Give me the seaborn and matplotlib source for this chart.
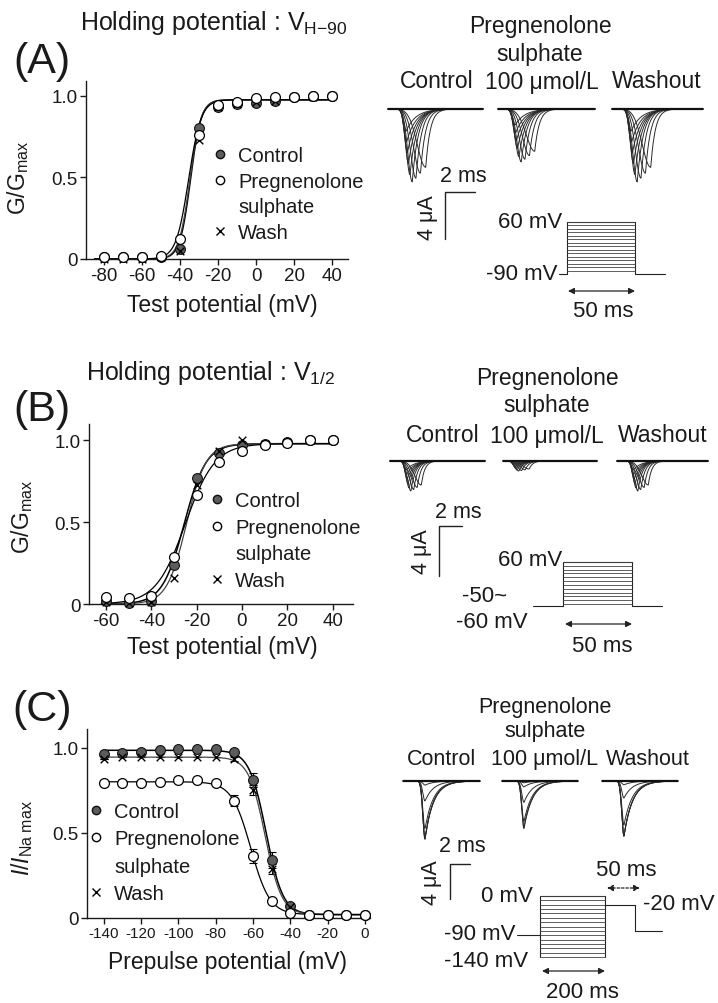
import numpy as np
import matplotlib
matplotlib.use("Agg")
import matplotlib.pyplot as plt
from matplotlib.lines import Line2D
import seaborn as sns

# ---------------- data ----------------
A_V = [-80, -70, -60, -50, -40, -30, -20, -10, 0, 10, 20, 30, 40]
A_control = [0.01, 0.01, 0.01, 0.01, 0.06, 0.80, 0.93, 0.95, 0.955, 0.97, 0.99, 1.0, 1.0]
A_ps = [0.01, 0.01, 0.01, 0.02, 0.125, 0.76, 0.94, 0.96, 0.985, 0.995, 0.995, 1.0, 1.0]
A_wash = [0.0, 0.0, 0.0, 0.01, 0.05, 0.73, 0.93, 0.95, 0.96, 0.97, 0.99, 0.99, 1.0]

B_V = [-60, -50, -40, -30, -20, -10, 0, 10, 20, 30, 40]
B_control = [0.02, 0.006, 0.02, 0.24, 0.77, 0.92, 0.97, 0.975, 0.99, 1.0, 1.0]
B_ps = [0.04, 0.035, 0.05, 0.285, 0.667, 0.87, 0.935, 0.97, 0.985, 1.0, 1.0]
B_wash = [0.01, 0.005, 0.015, 0.16, 0.73, 0.935, 1.0, 0.975, 0.985, 1.0, 1.0]

C_V = [-140, -130, -120, -110, -100, -90, -80, -70, -60, -50, -40, -30, -20, -10, 0]
C_control = [0.965, 0.97, 0.975, 0.985, 0.99, 0.995, 0.995, 0.975, 0.81, 0.34, 0.07, 0.02, 0.02, 0.02, 0.02]
C_ps = [0.79, 0.795, 0.795, 0.80, 0.81, 0.81, 0.79, 0.69, 0.364, 0.10, 0.03, 0.02, 0.02, 0.02, 0.02]
C_wash = [0.935, 0.945, 0.945, 0.945, 0.945, 0.945, 0.945, 0.935, 0.75, 0.29, 0.065, 0.02, 0.02, 0.02, 0.02]
C_control_err = [0, 0, 0, 0, 0, 0, 0, 0.01, 0.04, 0.045, 0.01, 0, 0, 0, 0]
C_ps_err = [0, 0, 0, 0, 0, 0, 0, 0.03, 0.04, 0.02, 0.01, 0, 0, 0, 0]
C_wash_err = [0, 0, 0, 0, 0, 0, 0, 0.01, 0.03, 0.03, 0.01, 0, 0, 0, 0]

# Boltzmann fit parameters (V1/2, slope k, top, bottom)
A_fit = {"control": (-34.5, 2.8, 0.975, 0.0), "ps": (-35.5, 3.3, 0.975, 0.0), "wash": (-34.8, 2.9, 0.975, 0.0)}
B_fit = {"control": (-25.5, 4.8, 0.98, 0.0), "ps": (-25.0, 6.5, 0.98, 0.0), "wash": (-24.5, 4.3, 0.98, 0.0)}
C_fit = {"control": (-53.0, 4.5, 0.985, 0.02), "ps": (-61.2, 5.1, 0.80, 0.02), "wash": (-53.5, 4.4, 0.945, 0.02)}

legend_labels = ["Control", "Pregnenolone", "sulphate", "Wash"]

# Current-trace families (schematic raw records)
act_tpeak_ms = [1.85, 1.5, 1.2, 0.95, 0.8, 0.7, 0.63, 0.58, 0.55]
act_rel_amp = [0.80, 0.88, 0.95, 1.0, 0.9, 0.75, 0.6, 0.45, 0.3]
act_tau_fall_ms = [0.3, 0.33, 0.36, 0.4, 0.45, 0.5, 0.55, 0.6, 0.65]
A_trace_peak_uA = {"control": 6.2, "ps": 4.5, "wash": 6.2}
B_trace_peak_uA = {"control": 2.4, "ps": 0.8, "wash": 2.4}
inact_prepulse_mV = [-140, -90, -70, -60, -50, -40]
C_trace_scale_uA = 6.7

A_steps_mV = list(range(-80, 61, 10))
B_steps_mV = list(range(-50, 61, 10))
C_prepulse_mV = list(range(-140, 1, 10))

# ---------------- style ----------------
sns.set_theme(style="ticks")
plt.rcParams["font.family"] = ["Liberation Sans", "DejaVu Sans"]
plt.rcParams["mathtext.fontset"] = "custom"
plt.rcParams["mathtext.rm"] = "Liberation Sans"
plt.rcParams["mathtext.it"] = "Liberation Sans:italic"
plt.rcParams["axes.unicode_minus"] = False

W, H = 718, 1004
fig = plt.figure(figsize=(W / 100, H / 100), dpi=100)
fig.patch.set_facecolor("white")
INK = "#1a1a1a"


def px_axes(x0, y0, x1, y1):
    return fig.add_axes([x0 / W, 1 - y1 / H, (x1 - x0) / W, (y1 - y0) / H])


def ftext(x, y, s, **kw):
    kw.setdefault("ha", "center")
    kw.setdefault("va", "center")
    kw.setdefault("color", INK)
    return fig.text(x / W, 1 - y / H, s, **kw)


def boltz_act(v, p):
    vh, k, top, bot = p
    return bot + (top - bot) / (1 + np.exp((vh - v) / k))


def boltz_inact(v, p):
    vh, k, top, bot = p
    return bot + (top - bot) / (1 + np.exp((v - vh) / k))


def style_axes(ax, xlim, ylim, xticks, xtick_size=13.5):
    ax.set_xlim(*xlim)
    ax.set_ylim(*ylim)
    ax.set_xticks(xticks)
    ax.set_xticklabels([str(t) for t in xticks])
    ax.set_yticks([0, 0.5, 1.0])
    ax.set_yticklabels(["0", "0.5", "1.0"])
    ax.tick_params(axis="both", direction="out", length=4, width=1, color=INK, labelcolor=INK, pad=2)
    ax.tick_params(axis="x", labelsize=xtick_size)
    ax.tick_params(axis="y", labelsize=13.5)
    sns.despine(ax=ax)
    for s in ("left", "bottom"):
        ax.spines[s].set_linewidth(1.0)
        ax.spines[s].set_color(INK)
    ax.set_facecolor("none")
    ax.set_xlabel("")
    ax.set_ylabel("")


def draw_points(ax, V, c, p, w):
    sns.scatterplot(x=V, y=c, ax=ax, color="#5c5c5c", edgecolor="#111111", s=50, linewidth=0.8,
                    zorder=4, clip_on=False, legend=False)
    sns.scatterplot(x=V, y=w, ax=ax, marker="x", color="black", s=30, linewidth=1.0,
                    zorder=5, clip_on=False, legend=False)
    sns.scatterplot(x=V, y=p, ax=ax, color="white", edgecolor="black", s=50, linewidth=0.9,
                    zorder=6, clip_on=False, legend=False)


def draw_fits(ax, fits, vrange, func):
    v = np.linspace(vrange[0], vrange[1], 400)
    sns.lineplot(x=v, y=func(v, fits["control"]), ax=ax, color="black", lw=1.1, estimator=None, zorder=3)
    sns.lineplot(x=v, y=func(v, fits["wash"]), ax=ax, color="#444444", lw=0.9, estimator=None, zorder=3)
    sns.lineplot(x=v, y=func(v, fits["ps"]), ax=ax, color="black", lw=0.9, estimator=None, zorder=3)


def add_legend(ax, x, y, spacing):
    handles = [Line2D([], [], marker="o", ls="none", mfc="#5c5c5c", mec="#111111", ms=6),
               Line2D([], [], marker="o", ls="none", mfc="white", mec="black", ms=6),
               Line2D([], [], ls="none"),
               Line2D([], [], marker="x", ls="none", color="black", ms=5.5)]
    leg = ax.legend(handles, legend_labels, loc="upper left", bbox_to_anchor=(x / W, 1 - y / H),
                    bbox_transform=fig.transFigure, frameon=False, fontsize=14.5, handlelength=1.0,
                    handletextpad=0.4, labelspacing=spacing, borderpad=0, borderaxespad=0)
    for t in leg.get_texts():
        t.set_color(INK)


# ---------------- left panels ----------------
axA = px_axes(86, 82, 348, 260)
draw_fits(axA, A_fit, (-85, 38), boltz_act)
draw_points(axA, A_V, A_control, A_ps, A_wash)
style_axes(axA, (-89.5, 48.4), (0, 1.09), list(range(-80, 41, 20)))
add_legend(axA, 210, 147, 0.33)

axB = px_axes(89, 425, 353, 605)
draw_fits(axB, B_fit, (-62, 40), boltz_act)
draw_points(axB, B_V, B_control, B_ps, B_wash)
style_axes(axB, (-67.5, 49), (0, 1.1), list(range(-60, 41, 20)))
add_legend(axB, 207, 492, 0.38)

axC = px_axes(87, 730, 370, 919)
draw_fits(axC, C_fit, (-140, 0), boltz_inact)
for vals, err in ((C_control, C_control_err), (C_wash, C_wash_err), (C_ps, C_ps_err)):
    axC.errorbar(C_V, vals, yerr=err, fmt="none", ecolor="black", elinewidth=0.8, capsize=3,
                 capthick=0.8, zorder=2, clip_on=False)
draw_points(axC, C_V, C_control, C_ps, C_wash)
style_axes(axC, (-149, 2.7), (0, 1.11), list(range(-140, 1, 20)), xtick_size=11)
add_legend(axC, 86, 803, 0.42)

# labels
ftext(42, 62, "(A)", fontsize=31)
ftext(42, 410, "(B)", fontsize=31)
ftext(42, 710, "(C)", fontsize=31)
ftext(80, 23, r"Holding potential : V$_{\mathrm{H}\mathrm{-}\mathrm{90}}$", fontsize=18, ha="left")
ftext(86, 373, r"Holding potential : V$_{\mathrm{1/2}}$", fontsize=18, ha="left")
ftext(18, 178, r"G/G$_{\mathrm{max}}$", fontsize=16.5, rotation=90)
ftext(22, 517, r"G/G$_{\mathrm{max}}$", fontsize=16.5, rotation=90)
ftext(22, 838, r"$I/I_{\mathrm{Na\ max}}$", fontsize=16.5, rotation=90)
ftext(222, 306, "Test potential (mV)", fontsize=16.5)
ftext(222, 648, "Test potential (mV)", fontsize=16.5)
ftext(227, 963, "Prepulse potential (mV)", fontsize=16.5)

# ---------------- right panels: raw traces ----------------


def trace_axes(x0, x1, onset, base, ppms, ppua, depth=95, above=8):
    ax = px_axes(x0, base - above, x1, base + depth)
    ax.set_xlim((x0 - onset) / ppms, (x1 - onset) / ppms)
    ax.set_ylim(-depth / ppua, above / ppua)
    ax.axis("off")
    return ax


def na_shape(t, tpeak, tau_fall):
    rise = tpeak / 2.3
    f = np.where(t < tpeak, np.exp(-((t - tpeak) / rise) ** 2), np.exp(-(t - tpeak) / tau_fall))
    return np.where(t < 0, 0.0, f)


def draw_family(ax, amps, tpeaks, taus):
    x0, x1 = ax.get_xlim()
    t = np.linspace(x0, x1, 600)
    for a, tp, tf in zip(amps, tpeaks, taus):
        ax.plot(t, -a * na_shape(t, tp, tf), color="#2a2a2a", lw=0.7, clip_on=False)
    ax.plot([x0, x1], [0, 0], color="#111111", lw=1.6, clip_on=False, solid_capstyle="butt")


rowA = dict(base=110, ppms=15.0, ppua=11.75,
            groups={"control": (388, 483, 398), "ps": (498, 595, 507), "wash": (612, 703, 623)})
rowB = dict(base=462, ppms=11.5, ppua=12.5,
            groups={"control": (390, 485, 400), "ps": (503, 597, 508), "wash": (617, 708, 627)})
rowC = dict(base=782, ppms=10.0, ppua=8.75,
            groups={"control": (403, 480, 418), "ps": (502, 578, 517), "wash": (602, 678, 617)})

for row, peaks in ((rowA, A_trace_peak_uA), (rowB, B_trace_peak_uA)):
    for cond, (x0, x1, on) in row["groups"].items():
        ax = trace_axes(x0, x1, on, row["base"], row["ppms"], row["ppua"])
        draw_family(ax, [peaks[cond] * r for r in act_rel_amp], act_tpeak_ms, act_tau_fall_ms)

C_series = {"control": C_control, "ps": C_ps, "wash": C_wash}
for cond, (x0, x1, on) in rowC["groups"].items():
    ax = trace_axes(x0, x1, on, rowC["base"], rowC["ppms"], rowC["ppua"])
    amps = [C_trace_scale_uA * C_series[cond][C_V.index(v)] for v in inact_prepulse_mV]
    draw_family(ax, amps, [0.7] * len(amps), [0.85] * len(amps))

# column headings
for (px, py1, py2, py3, xs, fs) in ((540, 27, 55, 82, (437, 542, 657), 16.5),
                                    (547, 378, 406, 436, (443, 547, 663), 16.5),
                                    (545, 707, 732, 760, (442, 545, 648), 15.5)):
    ftext(px, py1, "Pregnenolone", fontsize=fs)
    ftext(px, py2, "sulphate", fontsize=fs)
    ftext(xs[0], py3, "Control", fontsize=fs)
    ftext(xs[1], py3, "100 μmol/L", fontsize=fs)
    ftext(xs[2], py3, "Washout", fontsize=fs)

# overlay axes in pixel units for scale bars & arrows
ov = fig.add_axes([0, 0, 1, 1])
ov.set_xlim(0, W)
ov.set_ylim(H, 0)
ov.axis("off")
ov.set_zorder(10)

for row, (sx, sy, tx, ty, ux, uy) in ((rowA, (445, 193, 463, 177, 428, 218)),
                                     (rowB, (439, 527, 458, 512, 422, 552)),
                                     (rowC, (450, 865, 462, 846, 432, 883))):
    lx = 2 * row["ppms"]
    ly = 4 * row["ppua"]
    ov.plot([sx + lx, sx, sx], [sy, sy, sy + ly], color="#222222", lw=1.0)
    ftext(tx, ty, "2 ms", fontsize=15.5)
    ftext(ux, uy, "4 μA", fontsize=15.5, rotation=90)

# ---------------- voltage protocols ----------------


def proto_axes(x0, y0, x1, y1, xlim, ylim):
    ax = px_axes(x0, y0, x1, y1)
    ax.set_xlim(*xlim)
    ax.set_ylim(*ylim)
    ax.axis("off")
    return ax


kw = dict(color="#222222", lw=0.8, clip_on=False)
# A
pa = proto_axes(559, 223, 665, 275, (-6, 72), (-90, 60))
pa.plot([-6, 0, 0, 50, 50, 72], [-90, -90, 60, 60, -90, -90], **kw)
for v in A_steps_mV:
    pa.plot([0, 50], [v, v], color="#444444", lw=0.6, clip_on=False)
# B
pb = proto_axes(533, 563, 662, 607, (-22, 72), (-55, 60))
pb.plot([-22, 0, 0, 50, 50, 72], [-55, -55, 60, 60, -55, -55], **kw)
for v in B_steps_mV:
    pb.plot([0, 50], [v, v], color="#444444", lw=0.6, clip_on=False)
# C
pc = proto_axes(517, 897, 662, 958, (-70, 375), (-140, 0))
pc.plot([-70, 0], [-90, -90], **kw)
pc.plot([0, 0, 200, 200], [-140, 0, 0, -140], **kw)
for v in C_prepulse_mV:
    pc.plot([0, 200], [v, v], color="#444444", lw=0.6, clip_on=False)
pc.plot([200, 292, 292, 375], [-20, -20, -80, -80], **kw)

arrow = dict(arrowstyle="<|-|>", color="#222222", lw=0.9, mutation_scale=9, shrinkA=0, shrinkB=0)
ov.annotate("", xy=(635, 292), xytext=(568, 292), arrowprops=arrow)
ov.annotate("", xy=(632, 625), xytext=(565, 625), arrowprops=arrow)
ov.annotate("", xy=(605, 972), xytext=(542, 972), arrowprops=arrow)
ov.annotate("", xy=(640, 889), xytext=(607, 889), arrowprops=dict(arrow, linestyle=(0, (2, 1.5))))

ftext(562, 223, "60 mV", fontsize=16, ha="right")
ftext(557, 274, "-90 mV", fontsize=16, ha="right")
ftext(603, 312, "50 ms", fontsize=16)
ftext(562, 561, "60 mV", fontsize=16, ha="right")
ftext(485, 597, "-50~", fontsize=16)
ftext(492, 623, "-60 mV", fontsize=16)
ftext(602, 647, "50 ms", fontsize=16)
ftext(533, 897, "0 mV", fontsize=16, ha="right")
ftext(515, 935, "-90 mV", fontsize=16, ha="right")
ftext(486, 962, "-140 mV", fontsize=16)
ftext(643, 905, "-20 mV", fontsize=16, ha="left")
ftext(626, 871, "50 ms", fontsize=16)
ftext(582, 993, "200 ms", fontsize=16)

fig.savefig("out.png", dpi=100, facecolor="white")
